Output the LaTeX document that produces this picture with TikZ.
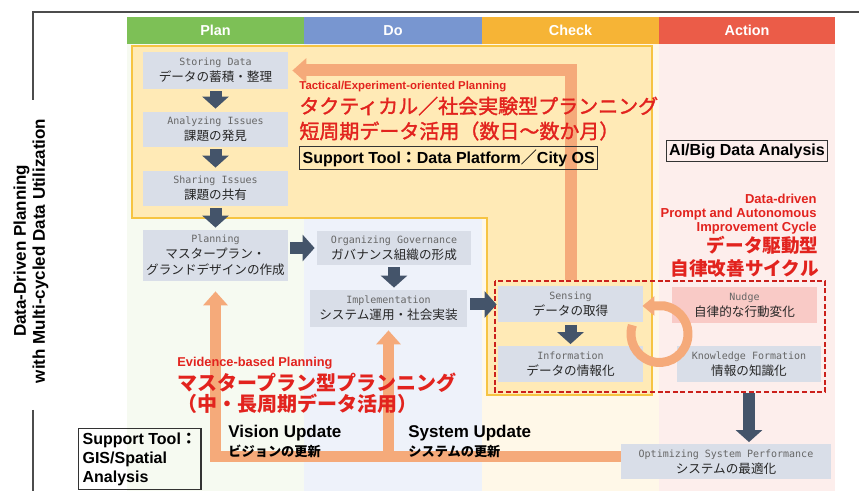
\documentclass[tikz,border=0pt]{standalone}
\usepackage{fontspec}
\setmainfont{Liberation Sans}
\newfontfamily\jp{Noto Sans CJK JP}
\newfontfamily\jpmed[FakeBold=1.6]{Noto Sans CJK JP}
\newfontfamily\lbl{DejaVu Sans Mono}
\usetikzlibrary{arrows.meta}

\definecolor{planhd}{RGB}{125,192,86}
\definecolor{dohd}{RGB}{120,150,208}
\definecolor{checkhd}{RGB}{246,180,54}
\definecolor{acthd}{RGB}{235,92,72}
\definecolor{planbg}{RGB}{246,250,241}
\definecolor{dobg}{RGB}{238,242,250}
\definecolor{checkbg}{RGB}{255,248,232}
\definecolor{actbg}{RGB}{253,238,236}
\definecolor{tacfill}{RGB}{255,234,182}
\definecolor{tacline}{RGB}{246,196,66}
\definecolor{boxgray}{RGB}{217,222,232}
\definecolor{nudgefill}{RGB}{249,202,198}
\definecolor{darkarr}{RGB}{68,84,106}
\definecolor{orgarr}{RGB}{245,170,122}
\definecolor{redtxt}{RGB}{226,35,30}

\newcommand{\lbltxt}[1]{{\lbl\fontsize{5}{8}\selectfont\color{black!60}#1}}

\tikzset{
  header/.style={inner sep=0pt, minimum height=13.5pt, text=white, font=\bfseries\fontsize{7.2}{8}\selectfont},
  stepbox/.style={fill=boxgray, inner sep=0pt, align=center, text=black!85, font=\jp\fontsize{6.3}{8}\selectfont},
  darr/.style={draw=darkarr, line width=6pt, -{Triangle[width=13pt,length=6pt]}},
  orarr/.style={draw=orgarr, line width=6pt, -{Triangle[width=12pt,length=7pt]}},
  redsmall/.style={text=redtxt, inner sep=0pt, font=\bfseries\fontsize{5.7}{7}\selectfont},
  redbig/.style={text=redtxt, inner sep=0pt, font=\jp\bfseries\fontsize{10}{12}\selectfont},
  toolbox/.style={draw=black!80, line width=0.6pt, inner sep=1.5pt, font=\bfseries\fontsize{8}{9.5}\selectfont}
}

\begin{document}
\begin{tikzpicture}[x=0.5pt,y=0.5pt,yscale=-1,xscale=1]
\useasboundingbox (0,0) rectangle (859,491);

% Columns
\fill[planbg] (127,44) rectangle (304,491);
\fill[dobg] (304,44) rectangle (482,491);
\fill[checkbg] (482,44) rectangle (659,491);
\fill[actbg] (659,44) rectangle (835,491);

\node[header, fill=planhd, minimum width=88.5pt] (hplan) at (215.5,30.5) {Plan};
\node[header, fill=dohd, minimum width=89pt] (hdo) at (393,30.5) {Do};
\node[header, fill=checkhd, minimum width=88.5pt] (hcheck) at (570.5,30.5) {Check};
\node[header, fill=acthd, minimum width=88pt] (hact) at (747,30.5) {Action};

% Bracket
\draw[black!70, line width=0.8pt] (33,100) -- (33,12) -- (859,12);
\draw[black!70, line width=0.8pt] (33,410) -- (33,491);
\node[rotate=90, align=center, inner sep=0pt, font=\bfseries\fontsize{8.5}{9.5}\selectfont] (title) at (31,251)
  {Data-Driven Planning\\with Multi-cycled Data Utilization};

% Tactical area
\draw[fill=tacfill, draw=tacline, line width=0.9pt] (132,46) -- (652,46) -- (652,395) -- (487,395) -- (487,218) -- (132,218) -- cycle;

% Steps
\node[stepbox, minimum width=72.5pt, minimum height=18.5pt] (store) at (215.5,70.5) {\lbltxt{Storing Data}\\データの蓄積・整理};
\node[stepbox, minimum width=72.5pt, minimum height=17.5pt] (analyze) at (215.5,129.5) {\lbltxt{Analyzing Issues}\\課題の発見};
\node[stepbox, minimum width=72.5pt, minimum height=17.5pt] (share) at (215.5,188.5) {\lbltxt{Sharing Issues}\\課題の共有};
\node[stepbox, minimum width=72.5pt, minimum height=25.5pt] (plan) at (215.5,255.5) {\lbltxt{Planning}\\マスタープラン・\\グランドデザインの作成};
\node[stepbox, minimum width=77pt, minimum height=17pt] (org) at (394,248) {\lbltxt{Organizing Governance}\\ガバナンス組織の形成};
\node[stepbox, minimum width=78.5pt, minimum height=18.5pt] (impl) at (388.5,308.5) {\lbltxt{Implementation}\\システム運用・社会実装};
\node[stepbox, minimum width=72.5pt, minimum height=18pt] (sens) at (570.5,304.5) {\lbltxt{Sensing}\\データの取得};
\node[stepbox, minimum width=72.5pt, minimum height=18pt] (info) at (570.5,364.5) {\lbltxt{Information}\\データの情報化};
\node[stepbox, fill=nudgefill, minimum width=72.5pt, minimum height=18pt] (nudge) at (744.5,305) {\lbltxt{Nudge}\\自律的な行動変化};
\node[stepbox, minimum width=72pt, minimum height=18pt] (know) at (749,364.5) {\lbltxt{Knowledge Formation}\\情報の知識化};
\node[stepbox, minimum width=105pt, minimum height=17.5pt] (opt) at (726,462) {\lbltxt{Optimizing System Performance}\\システムの最適化};

% Autonomous cycle
\draw[draw=redtxt!90!black, line width=1.3pt, dash pattern=on 2.5pt off 1.3pt] (495,281) rectangle (825,392);

% Orange loops
\draw[orarr, shorten <=3pt, shorten >=2pt] (sens.north) |- (store.east);
\draw[orarr, line width=5.5pt, shorten >=5pt] ([yshift=-2.5pt]opt.west) -| (plan.south);
\draw[orarr, line width=5.5pt, shorten >=1.5pt] ([yshift=-2.5pt]opt.west -| impl.south) -- (impl.south);
\coordinate (cyc) at (659.5,334);
\draw[orgarr, line width=4.5pt, -{Triangle[width=9.5pt,length=6pt]}] (cyc) ++(198:28.5) arc[start angle=198, end angle=-80, radius=28.5] -- ++(-22,0);

% Flow
\draw[darr, shorten <=1pt, shorten >=1.5pt] (store) -- (analyze);
\draw[darr, shorten <=1pt, shorten >=1.5pt] (analyze) -- (share);
\draw[darr, shorten <=1pt, shorten >=1pt] (share) -- (plan);
\draw[darr, shorten <=1pt, shorten >=1pt] (plan.east |- org.west) -- (org.west);
\draw[darr, shorten <=1pt, shorten >=1pt] (org.south) -- (org.south |- impl.north);
\draw[darr, shorten <=1.5pt, shorten >=0.5pt] (impl.east |- sens.west) -- (sens.west);
\draw[darr, shorten <=1pt, shorten >=1pt] (sens) -- (info);
\draw[darr, shorten <=5pt, shorten >=1pt] (know.south) -- (know.south |- opt.north);

% Labels
\node[redsmall, anchor=west] (tacen) at (299,87) {Tactical/Experiment-oriented Planning};
\node[redbig, anchor=west, font=\jpmed\fontsize{10}{12}\selectfont] (tacjp) at (299,106) {タクティカル／社会実験型プランニング};
\node[redbig, anchor=west, font=\jpmed\fontsize{10}{12}\selectfont] (tacjpb) at (299,131) {短周期データ活用（数日〜数か月）};
\node[toolbox, anchor=west] (platform) at (299,158) {Support Tool{\jp ：}Data Platform{\jp ／}City OS};
\node[toolbox] (aibig) at (747,151) {AI/Big Data Analysis};
\node[redsmall, anchor=east, align=right, font=\bfseries\fontsize{6.5}{7}\selectfont] (dden) at (817,214)
  {Data-driven\\Prompt and Autonomous\\Improvement Cycle};
\node[redbig, anchor=east, align=right, font=\jp\bfseries\fontsize{9.3}{11.5}\selectfont] (ddjp) at (819,257)
  {データ駆動型\\自律改善サイクル};
\node[redsmall, anchor=west, font=\bfseries\fontsize{6.4}{7}\selectfont] (evien) at (177,363) {Evidence-based Planning};
\node[redbig, anchor=west] (evijp) at (177,383) {マスタープラン型プランニング};
\node[redbig, anchor=west] (evijpb) at (177,404) {（中・長周期データ活用）};
\node[anchor=west, inner sep=0pt, align=left, font=\bfseries\fontsize{8.5}{9.5}\selectfont] (vision) at (228,441)
  {Vision Update\\{\jp\fontsize{6.6}{9.5}\selectfont ビジョンの更新}};
\node[anchor=west, inner sep=0pt, align=left, font=\bfseries\fontsize{8.5}{9.5}\selectfont] (sysup) at (408,441)
  {System Update\\{\jp\fontsize{6.6}{9.5}\selectfont システムの更新}};
\node[toolbox, anchor=north west, align=left, font=\bfseries\fontsize{8}{9.5}\selectfont, inner sep=2pt] (gis) at (78,428)
  {Support Tool{\jp ：}\\GIS/Spatial\\Analysis};

\end{tikzpicture}
\end{document}
